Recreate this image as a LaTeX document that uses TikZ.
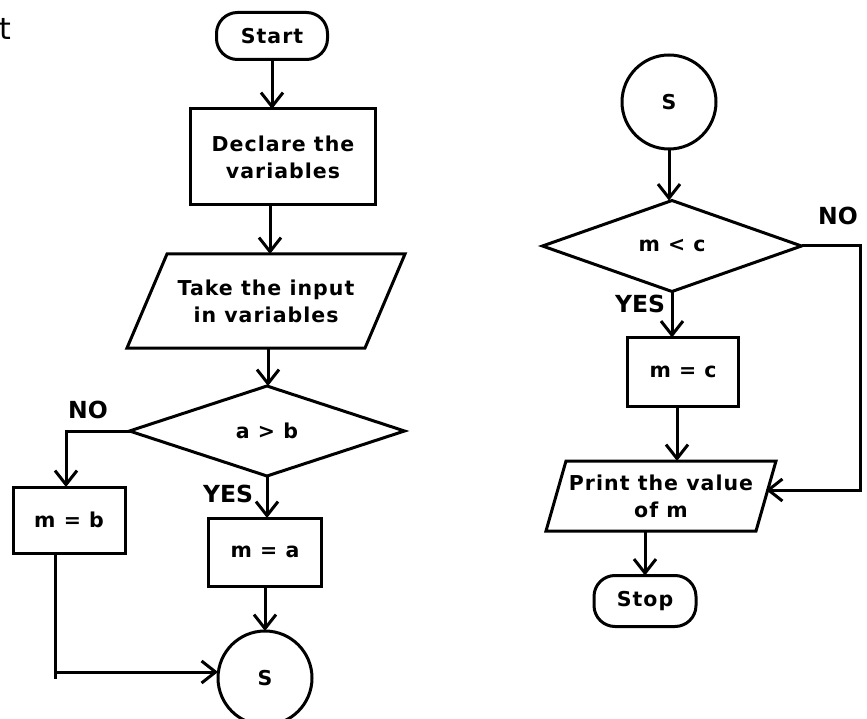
\documentclass[tikz,border=0pt]{standalone}
\usepackage{fontspec}
\setmainfont{DejaVu Sans}
\newfontfamily\boxfont[LetterSpace=5]{DejaVu Sans Bold}
\newfontfamily\lblfont{DejaVu Sans Bold}
\usetikzlibrary{arrows.meta}
\begin{document}
\begin{tikzpicture}[x=1pt,y=-1pt,
  every node/.style={inner sep=0pt, outer sep=0pt},
  txt/.style={font=\boxfont\fontsize{20.5}{27}\selectfont, align=center},
  boxnode/.style={txt, draw, line width=3pt, rectangle},
  termnode/.style={txt, draw, line width=3pt, rectangle, rounded corners=21pt},
  connnode/.style={txt, draw, line width=3pt, circle, minimum size=94pt},
  outline/.style={line width=3pt, line join=miter},
  lbl/.style={font=\lblfont\fontsize{23.5}{23.5}\selectfont},
  arr/.style={line width=3pt, -{Straight Barb[length=14pt,width=22pt,line width=3pt]}},
  conn/.style={line width=3pt}
]
\useasboundingbox (0,0) rectangle (867,719);
\fill[white] (0,0) rectangle (867,719);

\node[anchor=base west, font=\fontsize{30}{30}\selectfont] (cut) at (-1,40) {t};

% left column
\node[termnode, minimum width=111pt, minimum height=47pt] (start) at (272,36) {Start};
\node[boxnode, minimum width=185pt, minimum height=96pt] (decl) at (283,157) {Declare the\\variables};
\node[txt, minimum width=238pt, minimum height=94pt] (inp) at (266,301) {Take the input\\in variables};
\draw[outline] ([xshift=20pt]inp.north west) -- ([xshift=20pt]inp.north east)
  -- ([xshift=-20pt]inp.south east) -- ([xshift=-20pt]inp.south west) -- cycle;
\node[txt, minimum width=275pt, minimum height=90pt] (dia) at (267,431) {a > b};
\draw[outline] (dia.north) -- (dia.east) -- (dia.south) -- (dia.west) -- cycle;
\node[boxnode, minimum width=112pt, minimum height=66pt] (mb) at (69,520) {m = b};
\node[boxnode, minimum width=113pt, minimum height=68pt] (ma) at (265,552) {m = a};
\node[connnode] (s1) at (265,678) {S};

\node[lbl] (no1) at (88,410) {NO};
\node[lbl] (yes1) at (228,494) {YES};
\coordinate (mbend) at (55,679);

\draw[arr] (start.south) -- (start.south |- decl.north);
\draw[arr] ([xshift=-13pt]decl.south) -- ([xshift=-13pt]decl.south |- inp.north);
\draw[arr] ([xshift=2pt]inp.south) -- ([xshift=2pt]inp.south |- dia.north);
\draw[arr] (dia.west) -| ([xshift=-3pt]mb.north);
\draw[arr] (dia.south) -- (dia.south |- ma.north);
\draw[arr] (ma.south) -- (s1.north);
\draw[conn] ([xshift=-14pt]mb.south) -- (mbend);
\draw[arr] (mbend |- s1.west) ++(0,-6) -- ([yshift=6pt]s1.west);

% right column
\node[connnode] (s2) at (669,102) {S};
\node[txt, minimum width=259pt, minimum height=91pt] (dia2) at (672,246) {m < c};
\draw[outline] (dia2.north) -- (dia2.east) -- (dia2.south) -- (dia2.west) -- cycle;
\node[boxnode, minimum width=111pt, minimum height=69pt] (mc) at (683,372) {m = c};
\node[txt, minimum width=210pt, minimum height=70pt] (prt) at (661,496) {Print the value\\of m};
\draw[outline] ([xshift=10pt]prt.north west) -- ([xshift=10pt]prt.north east)
  -- ([xshift=-10pt]prt.south east) -- ([xshift=-10pt]prt.south west) -- cycle;
\node[termnode, minimum width=102pt, minimum height=51pt] (stop) at (645,601) {Stop};

\node[lbl] (no2) at (838,216) {NO};
\node[lbl] (yes2) at (640,304) {YES};
\coordinate (nocorner) at (860,246);

\draw[arr] (s2.south) -- (s2.south |- dia2.north);
\draw[arr] (dia2.south) -- (dia2.south |- mc.north);
\draw[arr] ([xshift=-6pt]mc.south) -- ([xshift=-6pt]mc.south |- prt.north);
\draw[arr] (dia2.east) -- (nocorner) |- ([yshift=6pt]prt.east);
\draw[arr] ([xshift=-16pt]prt.south) -- ([xshift=-16pt]prt.south |- stop.north);
\end{tikzpicture}
\end{document}
